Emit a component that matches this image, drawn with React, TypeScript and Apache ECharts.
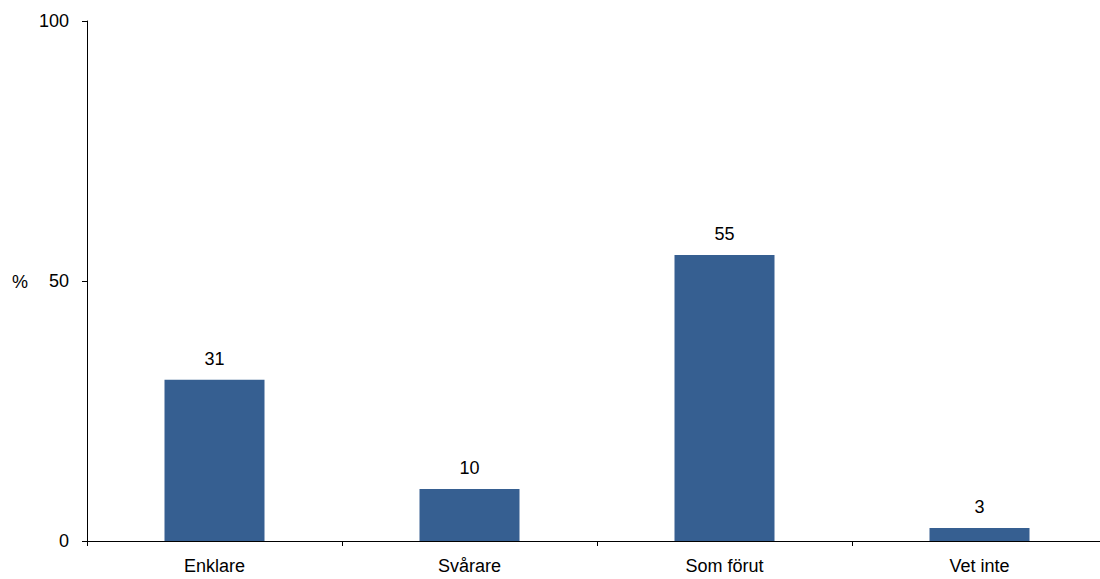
import React, { useEffect, useRef } from "react";
import * as echarts from "echarts";

const categories = ["Enklare", "Svårare", "Som förut", "Vet inte"];
const values = [31, 10, 55, 2.5];
const yTicks = [0, 50, 100];

export default function App() {
  const ref = useRef<HTMLDivElement>(null);
  useEffect(() => {
    const chart = echarts.init(ref.current!, undefined, { renderer: "svg" });
    const font = "'Liberation Sans', Arial, sans-serif";
    chart.setOption({
      animation: false,
      grid: { left: 87, top: 21, width: 1020, bottom: 38 },
      xAxis: {
        type: "category",
        data: categories,
        axisLine: { lineStyle: { color: "#000", width: 1 } },
        axisTick: { show: true, length: 5, inside: false, alignWithLabel: false, lineStyle: { color: "#000" } },
        axisLabel: { color: "#000", fontSize: 18, fontFamily: font, margin: 16 },
      },
      yAxis: {
        type: "value",
        min: yTicks[0],
        max: yTicks[yTicks.length - 1],
        interval: 50,
        splitLine: { show: false },
        axisLine: { show: true, lineStyle: { color: "#000", width: 1 } },
        axisTick: { show: true, length: 5, lineStyle: { color: "#000" } },
        axisLabel: { color: "#000", fontSize: 18, fontFamily: font, margin: 18 },
      },
      graphic: [
        {
          type: "text",
          left: 12,
          top: 273,
          style: { text: "%", fontSize: 18, fontFamily: font, fill: "#000" },
        },
      ],
      series: [
        {
          type: "bar",
          data: values,
          barWidth: 100,
          itemStyle: { color: "#365F91" },
          label: {
            show: true,
            position: "top",
            distance: 12,
            color: "#000",
            fontSize: 18,
            fontFamily: font,
            formatter: (p: any) => String(Math.round(p.value)),
          },
        },
      ],
    });
    return () => chart.dispose();
  }, []);
  return (
    <div style={{ position: "absolute", left: 0, top: 0, width: 1100, height: 579, overflow: "hidden", background: "#fff" }}>
      <div ref={ref} style={{ width: 1120, height: 579 }} />
    </div>
  );
}
